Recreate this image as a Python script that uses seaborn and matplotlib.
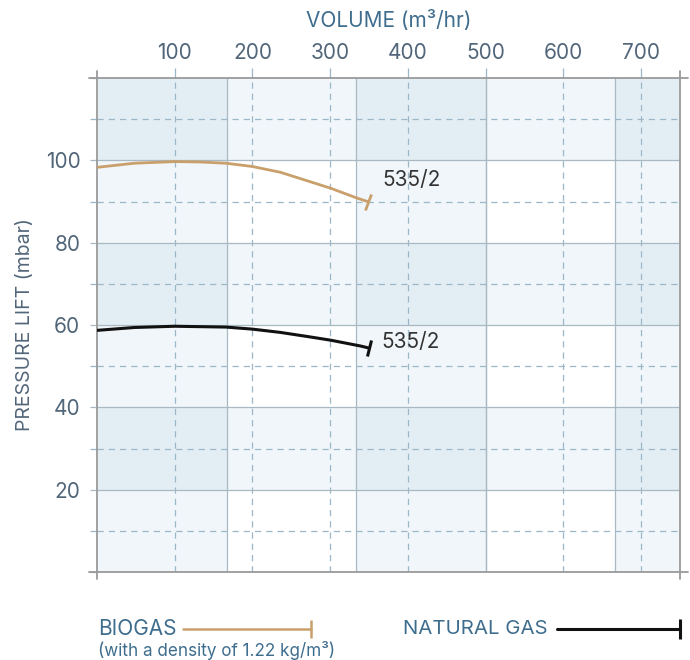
import matplotlib
matplotlib.use("Agg")
import matplotlib.pyplot as plt
import seaborn as sns
import numpy as np
from matplotlib.markers import MarkerStyle
from matplotlib.transforms import Affine2D
from matplotlib.lines import Line2D

# curve readings (volume m3/hr, pressure lift mbar)
biogas_volume = [0, 48, 100, 133, 166, 200, 236, 271, 301, 335, 348]
biogas_lift = [98.3, 99.3, 99.7, 99.6, 99.3, 98.5, 97.1, 95.0, 93.2, 90.8, 90.0]
natgas_volume = [0, 48, 100, 166, 200, 236, 271, 301, 339, 350]
natgas_lift = [58.7, 59.4, 59.7, 59.5, 59.0, 58.2, 57.2, 56.3, 54.9, 54.4]
curve_label = "535/2"

x_ticks = [100, 200, 300, 400, 500, 600, 700]
x_bands = [0, 166.67, 333.33, 500, 666.67, 750]
y_ticks = [0, 20, 40, 60, 80, 100, 120]
y_minor = [10, 30, 50, 70, 90, 110]

BLUE_TXT = "#3f6d8e"
GREY_TXT = "#52667a"
TAN = "#c9a06b"
BAND = "#73afcd"
SOLID = "#a9b9c4"
DASH = "#9cb7c8"
FRAME = "#9a9a9a"
FS = 15

sns.set_style("white")
plt.rcParams["font.family"] = ["Inter", "DejaVu Sans"]

fig = plt.figure(figsize=(6.9, 6.6), dpi=100)
ax = fig.add_axes([0.1406, 0.1333, 0.8449, 0.7485])

ax.set_xlim(0, 750)
ax.set_ylim(0, 120)

# checkerboard bands
for i in range(0, len(x_bands) - 1, 2):
    ax.axvspan(x_bands[i], x_bands[i + 1], color=BAND, alpha=0.1, lw=0, zorder=0)
for y0 in range(20, 120, 40):
    ax.axhspan(y0, y0 + 20, color=BAND, alpha=0.1, lw=0, zorder=0)

# grid
for xb in x_bands[1:-1]:
    ax.axvline(xb, color=SOLID, lw=0.9, zorder=1)
for xt in x_ticks:
    if xt != 500:
        ax.axvline(xt, color=DASH, lw=0.9, ls=(0, (5, 4)), zorder=1)
    else:
        ax.axvline(xt, color=SOLID, lw=0.9, zorder=1)
for yt in y_ticks[1:-1]:
    ax.axhline(yt, color=SOLID, lw=0.9, zorder=1)
for ym in y_minor:
    ax.axhline(ym, color=DASH, lw=0.9, ls=(0, (5, 4)), zorder=1)

# frame with small overhang
for s in ax.spines.values():
    s.set_visible(False)
ox, oy = 0.014, 0.015
kw = dict(transform=ax.transAxes, color=FRAME, lw=1.3, clip_on=False, zorder=3)
ax.plot([-ox, 1 + ox], [0, 0], **kw)
ax.plot([-ox, 1 + ox], [1, 1], **kw)
ax.plot([0, 0], [-oy, 1 + oy], **kw)
ax.plot([1, 1], [-oy, 1 + oy], **kw)

# curves
sns.lineplot(x=biogas_volume, y=biogas_lift, color=TAN, lw=2, ax=ax, zorder=4)
sns.lineplot(x=natgas_volume, y=natgas_lift, color="#111111", lw=2.2, ax=ax, zorder=4)

fig.canvas.draw()


def end_cap(xs, ys, color, size, lw):
    p1 = ax.transData.transform((xs[-2], ys[-2]))
    p2 = ax.transData.transform((xs[-1], ys[-1]))
    ang = np.degrees(np.arctan2(p2[1] - p1[1], p2[0] - p1[0]))
    m = MarkerStyle("|", transform=Affine2D().rotate_deg(ang))
    ax.plot([xs[-1]], [ys[-1]], marker=m, ms=size, mew=lw, color=color,
            ls="none", zorder=5, clip_on=False)


end_cap(biogas_volume, biogas_lift, TAN, 12, 2)
end_cap(natgas_volume, natgas_lift, "#111111", 12, 2.2)

ax.annotate(curve_label, (biogas_volume[-1], biogas_lift[-1]), xytext=(11, 15.5),
            textcoords="offset points", ha="left", va="center", fontsize=15, color="#333333")
ax.annotate(curve_label, (natgas_volume[-1], natgas_lift[-1]), xytext=(9, 4.5),
            textcoords="offset points", ha="left", va="center", fontsize=15, color="#333333")

# ticks
ax.xaxis.tick_top()
ax.xaxis.set_label_position("top")
ax.set_xticks(x_ticks)
ax.set_xticklabels([str(v) for v in x_ticks])
ax.tick_params(axis="x", which="major", top=True, bottom=False, length=7, width=0.9,
               color=DASH, pad=4, labelsize=FS, labelcolor=GREY_TXT)
ax.set_yticks(y_ticks)
ax.set_yticklabels(["" if v in (0, 120) else str(v) for v in y_ticks])
ax.set_yticks(y_minor, minor=True)
ax.tick_params(axis="y", which="major", left=True, length=5, width=0.9, color=SOLID,
               pad=7, labelsize=FS, labelcolor=GREY_TXT)
ax.tick_params(axis="y", which="minor", left=True, length=5, width=0.9, color=DASH)
ax.grid(False)

ax.set_xlabel("VOLUME (m³/hr)", fontsize=FS, color=BLUE_TXT, labelpad=11)
ax.set_ylabel("PRESSURE LIFT (mbar)", fontsize=14, color=GREY_TXT, labelpad=8)

# legend under the chart
fig.text(98 / 690, 1 - 629 / 660, "BIOGAS", fontsize=FS, color=BLUE_TXT, ha="left", va="center")
fig.text(98 / 690, 1 - 651 / 660, "(with a density of 1.22 kg/m³)", fontsize=12.3,
         color=BLUE_TXT, ha="left", va="center")
fig.text(403 / 690, 1 - 629 / 660, "NATURAL GAS", fontsize=14.7, color=BLUE_TXT, ha="left", va="center")

ly = 1 - 629 / 660
fig.add_artist(Line2D([183 / 690, 311 / 690], [ly, ly], color=TAN, lw=1.8, transform=fig.transFigure))
fig.add_artist(Line2D([311 / 690], [ly], marker="|", ms=13, mew=1.8, color=TAN, transform=fig.transFigure))
fig.add_artist(Line2D([557 / 690, 680 / 690], [ly, ly], color="#111111", lw=2.2, transform=fig.transFigure))
fig.add_artist(Line2D([680 / 690], [ly], marker="|", ms=14, mew=2.2, color="#111111", transform=fig.transFigure))

fig.savefig("out.png", dpi=100)
